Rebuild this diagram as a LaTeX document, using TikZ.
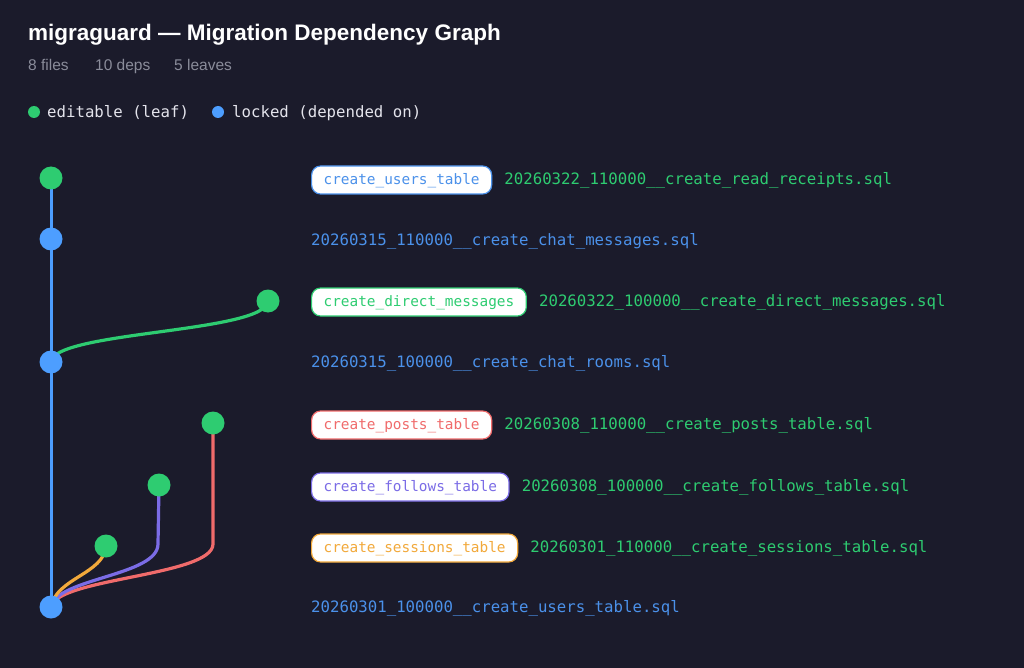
\documentclass[tikz,border=0pt]{standalone}
\usepackage{fontspec}
\setmainfont{Liberation Sans}
\newfontfamily\monof{DejaVu Sans Mono}
\definecolor{bgc}{HTML}{1B1B2B}
\definecolor{cgreen}{HTML}{2ECC71}
\definecolor{cblue}{HTML}{4D9EFF}
\definecolor{tblue}{HTML}{4B91EA}
\definecolor{cred}{HTML}{F06B6B}
\definecolor{cpurple}{HTML}{7B6CE6}
\definecolor{corange}{HTML}{F2A93B}
\definecolor{cgray}{HTML}{8A8C9A}
\definecolor{clegend}{HTML}{E4E4EC}
\pgfdeclarelayer{bg}
\pgfdeclarelayer{edges}
\pgfsetlayers{bg,edges,main}
\begin{document}
\begin{tikzpicture}[x=1pt,y=-1pt,
  leaf/.style={circle,fill=cgreen,minimum size=23pt,inner sep=0pt},
  lock/.style={circle,fill=cblue,minimum size=23pt,inner sep=0pt},
  dot/.style={circle,fill=#1,minimum size=12pt,inner sep=0pt},
  edge/.style={line width=3.2pt,line cap=round},
  mono/.style={anchor=west,inner sep=0pt,text height=12pt,text depth=3pt,font=\monof\fontsize{15.7}{18}\selectfont},
  fname/.style={mono,text=#1},
  pill/.style={draw=#1,fill=white,text=#1,rounded corners=9pt,line width=1.2pt,anchor=west,
    minimum height=28pt,inner xsep=12pt,inner ysep=0pt,text height=12pt,text depth=3pt,
    font=\monof\fontsize{14.4}{16}\selectfont},
  sub/.style={anchor=base west,inner sep=0pt,text=cgray,font=\fontsize{15.5}{18}\selectfont},
]
\begin{pgfonlayer}{bg}
\fill[bgc] (0,0) rectangle (1024,668);
\end{pgfonlayer}
\useasboundingbox (0,0) rectangle (1024,668);

% title
\node[anchor=base west,inner sep=0pt,text=white,font=\bfseries\fontsize{22.5}{26}\selectfont] (title) at (28,41) {migraguard — Migration Dependency Graph};
\node[sub] (s1) at (28,71) {8 files};
\node[sub] (s2) at (95,71) {10 deps};
\node[sub] (s3) at (174,71) {5 leaves};

% legend
\node[dot=cgreen] (ld1) at (34,112) {};
\node[mono,text=clegend] (lt1) at (47,113) {editable (leaf)};
\node[dot=cblue] (ld2) at (218,112) {};
\node[mono,text=clegend] (lt2) at (232,113) {locked (depended on)};

% graph nodes
\node[leaf] (n0) at (51,178) {};
\node[lock] (n1) at (51,239) {};
\node[leaf] (n2) at (268,301) {};
\node[lock] (n3) at (51,362) {};
\node[leaf] (n4) at (213,423) {};
\node[leaf] (n5) at (159,485) {};
\node[leaf] (n6) at (106,546) {};
\node[lock] (n7) at (51,607) {};

\coordinate (k4) at (213,544);
\coordinate (k5) at (158,544);

\begin{pgfonlayer}{edges}
\draw[edge,cblue,line width=3pt] (n0.center) -- (n1.center) -- (n3.center) -- (n7.center);
\draw[edge,cgreen] (n3.center) .. controls (53,331) and (266,333) .. (n2.center);
\draw[edge,cred] (n4.center) -- (k4) .. controls (213,576) and (56,578) .. (n7.center);
\draw[edge,cpurple] (n5.center) -- (k5) .. controls (158,576) and (56,578) .. (n7.center);
\draw[edge,corange] (n6.center) .. controls (104,574) and (56,578) .. (n7.center);
\end{pgfonlayer}

% labels
\node[pill=tblue] (p0) at (311,180) {create\_users\_table};
\node[fname=cgreen] (f0) at ([xshift=12pt]p0.east) {20260322\_110000\_\_create\_read\_receipts.sql};
\node[fname=tblue] (f1) at (311,241) {20260315\_110000\_\_create\_chat\_messages.sql};
\node[pill=cgreen] (p2) at (311,302) {create\_direct\_messages};
\node[fname=cgreen] (f2) at ([xshift=12pt]p2.east) {20260322\_100000\_\_create\_direct\_messages.sql};
\node[fname=tblue] (f3) at (311,363) {20260315\_100000\_\_create\_chat\_rooms.sql};
\node[pill=cred] (p4) at (311,425) {create\_posts\_table};
\node[fname=cgreen] (f4) at ([xshift=12pt]p4.east) {20260308\_110000\_\_create\_posts\_table.sql};
\node[pill=cpurple] (p5) at (311,487) {create\_follows\_table};
\node[fname=cgreen] (f5) at ([xshift=12pt]p5.east) {20260308\_100000\_\_create\_follows\_table.sql};
\node[pill=corange] (p6) at (311,548) {create\_sessions\_table};
\node[fname=cgreen] (f6) at ([xshift=12pt]p6.east) {20260301\_110000\_\_create\_sessions\_table.sql};
\node[fname=tblue] (f7) at (311,608) {20260301\_100000\_\_create\_users\_table.sql};
\end{tikzpicture}
\end{document}
